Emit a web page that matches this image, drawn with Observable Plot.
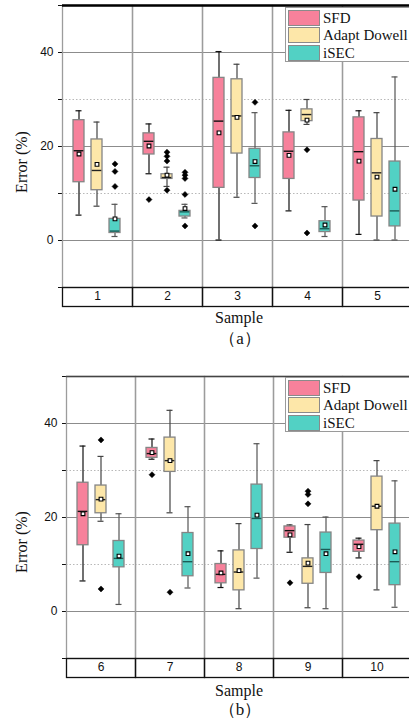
<!DOCTYPE html>
<html><head><meta charset="utf-8">
<script src="https://cdn.jsdelivr.net/npm/d3@7"></script>
<script src="https://cdn.jsdelivr.net/npm/@observablehq/plot@0.6"></script>
<style>
body{margin:0;background:#fff;width:409px;height:722px;overflow:hidden;position:relative;}
.abs{position:absolute;}
.serif{font-family:"Liberation Serif","Times New Roman",serif;color:#111;white-space:nowrap;}
.legend{position:absolute;background:#fff;border:1px solid #9a9a9a;width:140px;height:55px;box-sizing:border-box;}
.sw{position:absolute;left:1.5px;width:32px;height:16px;box-sizing:border-box;border:1.2px solid #8a8a8a;}
.lt{position:absolute;left:37px;font-size:15px;line-height:16px;}
</style></head><body>
<script>
const samples = [1,2,3,4,5,6,7,8,9,10];
const seriesNames = ["SFD","Adapt Dowell","iSEC"];
const seriesColors = ["#f7819b","#fde7a9","#52d1c4"];
// per sample: [SFD, Adapt Dowell, iSEC]
const whiskerLow  = [[5.4,7.3,0.85],[14.2,11.5,4.8],[0.1,9.2,7.9],[6.3,24.7,0.85],[1.3,0.1,0.1],[6.5,19.2,1.5],[32.4,21.0,5.0],[5.1,0.6,7.1],[12.6,0.8,0.6],[11.4,4.6,0.9]];
const boxLow      = [[12.4,10.7,1.6],[18.3,13.1,5.1],[11.2,18.5,13.3],[13.1,25.4,1.8],[8.5,5.1,3.0],[14.1,20.9,9.4],[32.7,29.7,7.5],[6.0,4.5,13.3],[15.7,5.9,8.2],[12.7,17.3,5.6]];
const medians     = [[19.1,14.9,2.0],[21.1,13.4,6.1],[25.4,26.5,15.9],[19.0,26.8,2.5],[18.9,14.4,6.3],[21.3,23.8,11.3],[33.6,32.1,10.6],[7.9,8.4,19.8],[17.2,9.6,13.2],[14.3,22.4,10.6]];
const means       = [[18.4,16.2,4.6],[20.1,13.9,6.8],[22.9,26.2,16.8],[18.1,25.6,3.3],[16.9,13.5,10.9],[20.8,23.9,11.8],[33.8,32.1,12.3],[8.2,8.7,20.5],[16.3,10.3,12.3],[13.8,22.4,12.7]];
const boxHigh     = [[25.6,21.5,4.6],[22.8,14.1,6.3],[34.6,34.3,19.5],[23.0,27.9,4.1],[26.2,21.6,16.8],[27.4,26.8,15.0],[34.8,37.0,16.7],[10.1,13.0,27.0],[18.1,11.3,16.8],[15.1,28.7,18.7]];
const whiskerHigh = [[27.6,25.2,7.7],[24.8,15.6,7.7],[40.2,37.5,27.2],[27.7,30.0,7.2],[27.6,27.2,34.8],[35.2,33.0,20.8],[36.7,42.8,22.3],[12.9,18.7,35.7],[18.4,18.5,20.1],[15.6,32.1,27.8]];
// outliers: [sample, series index, value]
const outliers = [[1,2,16.3],[1,2,14.7],[1,2,11.5],
  [2,0,8.7],[2,1,18.8],[2,1,17.9],[2,1,16.9],[2,1,10.7],[2,2,14.5],[2,2,13.9],[2,2,13.2],[2,2,9.8],[2,2,3.1],
  [3,2,29.4],[3,2,3.1],[4,1,19.3],[4,1,1.6],
  [6,1,36.5],[6,1,4.8],[7,0,29.1],[7,1,4.1],
  [9,0,6.1],[9,1,25.6],[9,1,24.9],[9,1,22.9],[10,0,7.4]];
const yTicks = [-10,0,10,20,30,40,50];

const whiskerStroke = ["#111","#444","#555"];
const medianStroke = ["#111","#222","#1c5c56"];

function panel(subset, cfg) {
  const rows = [];
  subset.forEach(s => seriesNames.forEach((name, i) => rows.push({
    sample: s, series: name, si: i,
    lo: whiskerLow[s-1][i], q1: boxLow[s-1][i], med: medians[s-1][i],
    mean: means[s-1][i], q3: boxHigh[s-1][i], hi: whiskerHigh[s-1][i]
  })));
  const outs = outliers.filter(o => subset.includes(o[0]))
    .map(o => ({sample: o[0], series: seriesNames[o[1]], value: o[2]}));
  const H = 310, mt = 5, mb = 23;
  const plotH = H - mt - mb;
  const marks = [
    Plot.ruleY([0,20,40], {stroke:"#8c8c8c", strokeWidth:1}),
    Plot.ruleY([10,30], {stroke:"#b8b8b8", strokeWidth:1, strokeDasharray:"1.5,2"}),
    Plot.frame({stroke:"#9c9c9c", strokeWidth:1.3}),
    Plot.frame({stroke:"#111", strokeWidth:1.3, insetTop: plotH, insetBottom: -19})
  ];
  seriesNames.forEach((name, i) => {
    const d = rows.filter(r => r.si === i);
    marks.push(
      Plot.ruleX(d, {fx:"sample", x:"series", y1:"lo", y2:"hi", stroke: whiskerStroke[i], strokeWidth:1.2}),
      Plot.tickY(d, {fx:"sample", x:"series", y:"lo", stroke: whiskerStroke[i], strokeWidth:1.2, insetLeft:2.5, insetRight:2.5}),
      Plot.tickY(d, {fx:"sample", x:"series", y:"hi", stroke: whiskerStroke[i], strokeWidth:1.2, insetLeft:2.5, insetRight:2.5})
    );
  });
  marks.push(Plot.barY(rows, {fx:"sample", x:"series", y1:"q1", y2:"q3", fill:"series", stroke:"#858585", strokeWidth:1.3}));
  seriesNames.forEach((name, i) => {
    const d = rows.filter(r => r.si === i);
    marks.push(Plot.tickY(d, {fx:"sample", x:"series", y:"med", stroke: medianStroke[i], strokeWidth:1.4, insetLeft:0.7, insetRight:0.7}));
  });
  marks.push(
    Plot.dot(rows, {fx:"sample", x:"series", y:"mean", symbol:"square", r:2.1, fill:"white", stroke:"#000", strokeWidth:1.1}),
    Plot.dot(outs, {fx:"sample", x:"series", y:"value", symbol:"diamond2", r:2.7, fill:"#000", stroke:"#000", strokeWidth:0.5}),
    Plot.ruleY([50], {stroke: cfg.topColor, strokeWidth: cfg.topWidth})
  );
  return Plot.plot({
    width: 409, height: H,
    marginTop: mt, marginBottom: mb, marginLeft: cfg.left, marginRight: cfg.right,
    style: {fontFamily:"Liberation Sans, Arial, sans-serif", fontSize:"12px", background:"transparent", overflow:"visible", color:"#111"},
    fx: {domain: subset, padding: 0, axis: "bottom", tickSize: 0, tickPadding: 4, label: null},
    x: {domain: seriesNames, paddingInner: 0.37, paddingOuter: 0.557, axis: null},
    y: {domain: [-10, 50], ticks: yTicks, tickSize: 4, tickPadding: 5, line: true, label: null,
        tickFormat: d => (d % 20 === 0 && d >= 0 && d < 50) ? String(d) : ""},
    color: {domain: seriesNames, range: seriesColors},
    marks
  });
}

function addText(txt, cx, cy, size, rotate) {
  const el = document.createElement("div");
  el.className = "abs serif";
  el.textContent = txt;
  el.style.fontSize = size + "px";
  el.style.left = cx + "px";
  el.style.top = cy + "px";
  el.style.lineHeight = "1";
  el.style.transform = "translate(-50%,-50%)" + (rotate ? " rotate(-90deg)" : "");
  document.body.appendChild(el);
}
function addLegend(left, top) {
  const lg = document.createElement("div");
  lg.className = "legend serif";
  lg.style.left = left + "px"; lg.style.top = top + "px";
  seriesNames.forEach((name, i) => {
    const sw = document.createElement("div");
    sw.className = "sw"; sw.style.top = (1.5 + i * 17.8) + "px"; sw.style.background = seriesColors[i];
    const t = document.createElement("div");
    t.className = "lt"; t.style.top = (1.5 + i * 17.8) + "px"; t.textContent = name;
    lg.appendChild(sw); lg.appendChild(t);
  });
  document.body.appendChild(lg);
}

const a = panel(samples.slice(0,5), {left:62, right:-3, topColor:"#000", topWidth:2.5});
a.style.position = "absolute"; a.style.left = "0px"; a.style.top = "0px";
document.body.appendChild(a);
const b = panel(samples.slice(5), {left:64, right:-4, topColor:"#444", topWidth:1.6});
b.style.position = "absolute"; b.style.left = "0px"; b.style.top = "371px";
document.body.appendChild(b);

addLegend(285, 7);
addLegend(285, 377);
addText("Error (%)", 22, 162, 16, true);
addText("Error (%)", 22, 542, 16, true);
addText("Sample", 239, 318, 16, false);
addText("（a）", 240, 338, 17, false);
addText("Sample", 239, 691, 16, false);
addText("（b）", 240, 709, 17, false);
</script>
</body></html>
